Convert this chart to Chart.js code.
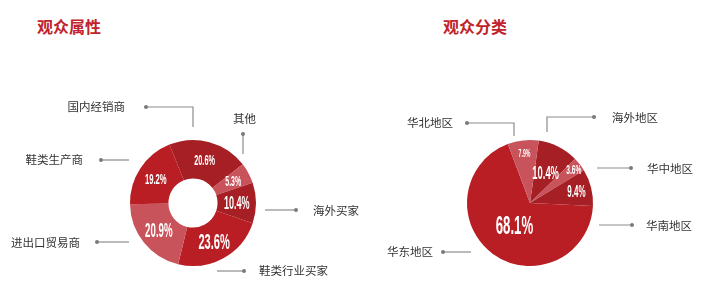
<!DOCTYPE html>
<html>
<head>
<meta charset="utf-8">
<script src="https://cdn.jsdelivr.net/npm/chart.js@4/dist/chart.umd.min.js"></script>
<style>
  html, body { margin: 0; padding: 0; background: #fff; }
  #wrap { position: relative; width: 725px; height: 306px; overflow: hidden; }
  .title { position: absolute; top: 17px; font: bold 16px "Noto Sans CJK SC", sans-serif; line-height: 18px; color: #c0232b; letter-spacing: 0; }
  canvas { position: absolute; top: 0; }
</style>
</head>
<body>
<div id="wrap">
  <div class="title" style="left:37px">观众属性</div>
  <div class="title" style="left:443px">观众分类</div>
  <canvas id="audience" width="362" height="306" style="left:0"></canvas>
  <canvas id="region" width="363" height="306" style="left:362px"></canvas>
</div>
<script>
// Visitor attributes (percent share)
const audienceLabels = ['国内经销商', '其他', '海外买家', '鞋类行业买家', '进出口贸易商', '鞋类生产商'];
const audienceShares = [20.6, 5.3, 10.4, 23.6, 20.9, 19.2];

// Visitor origin by region (percent share)
const regionLabels = ['海外地区', '华中地区', '华南地区', '华东地区', '华北地区'];
const regionShares = [10.4, 3.6, 9.4, 68.1, 7.9];

const DARK = '#a51f24', RED = '#b81e23', PINK = '#c9535b';
const audienceColors = [DARK, PINK, DARK, RED, PINK, RED];
const regionColors = [DARK, PINK, DARK, RED, PINK];

// Percent text inside each slice: cap height and radial position (0 = inner edge, 1 = outer edge)
const audienceTextHeight = [10.5, 10, 13, 16, 14, 11];
const audienceTextRadius = [0.52, 0.55, 0.5, 0.5, 0.5, 0.52];
const regionTextHeight = [13.5, 9.5, 11.5, 19, 7.5];
const regionTextRadius = [0.55, 0.88, 0.76, 0.42, 0.8];

// Leader lines, relative to the chart centre: polyline points (dot on the first), text anchor
const audienceCallouts = [
  { pts: [[-47, -96], [0, -96], [0, -76]], text: [-68, -96], align: 'right' },
  { pts: [[50, -69], [50, -49]], text: [51.5, -84], align: 'center' },
  { pts: [[103, 7], [72, 7]], text: [120, 8], align: 'left' },
  { pts: [[51, 68], [24, 68]], text: [66, 68], align: 'left' },
  { pts: [[-96, 39], [-64, 39]], text: [-113, 40], align: 'right' },
  { pts: [[-92, -43], [-64, -43]], text: [-110, -43], align: 'right' }
];
const regionCallouts = [
  { pts: [[64, -86], [17, -86], [17, -71]], text: [82, -85], align: 'left' },
  { pts: [[101, -35], [67, -35]], text: [117, -34], align: 'left' },
  { pts: [[102, 22], [69, 22]], text: [116, 23], align: 'left' },
  { pts: [[-87, 49], [-59, 49]], text: [-97, 49], align: 'right' },
  { pts: [[-63, -80], [-16, -80], [-16, -67]], text: [-77, -80], align: 'right' }
];

const sliceText = {
  id: 'sliceText',
  afterDatasetsDraw(chart, args, opts) {
    const ctx = chart.ctx;
    const values = chart.data.datasets[0].data;
    chart.getDatasetMeta(0).data.forEach((arc, i) => {
      const p = arc.getProps(['x', 'y', 'startAngle', 'endAngle', 'innerRadius', 'outerRadius'], true);
      const mid = (p.startAngle + p.endAngle) / 2;
      const r = p.innerRadius + (p.outerRadius - p.innerRadius) * opts.radius[i];
      const x = p.x + Math.cos(mid) * r;
      const y = p.y + Math.sin(mid) * r;
      const h = opts.height[i];
      ctx.save();
      ctx.translate(x, y + h / 2);
      ctx.scale(0.5, 1);
      ctx.font = 'bold ' + (h / 0.72).toFixed(1) + 'px "Liberation Sans Narrow", "Liberation Sans", sans-serif';
      ctx.fillStyle = '#ffffff';
      ctx.textAlign = 'center';
      ctx.textBaseline = 'alphabetic';
      ctx.fillText(values[i].toFixed(1) + '%', 0, 0);
      ctx.restore();
    });
  }
};

const callouts = {
  id: 'callouts',
  afterDraw(chart, args, opts) {
    const ctx = chart.ctx;
    const c = chart.getDatasetMeta(0).data[0];
    const cx = c.x, cy = c.y;
    const labels = chart.data.labels;
    opts.items.forEach((item, i) => {
      ctx.save();
      ctx.strokeStyle = '#8c8c8c';
      ctx.lineWidth = 1.2;
      ctx.beginPath();
      item.pts.forEach((pt, k) => {
        const px = cx + pt[0], py = cy + pt[1];
        if (k === 0) ctx.moveTo(px, py); else ctx.lineTo(px, py);
      });
      ctx.stroke();
      ctx.fillStyle = '#7a7a7a';
      ctx.beginPath();
      ctx.arc(cx + item.pts[0][0], cy + item.pts[0][1], 2, 0, Math.PI * 2);
      ctx.fill();
      ctx.fillStyle = '#333333';
      ctx.font = '11.5px "Noto Sans CJK SC", sans-serif';
      ctx.textAlign = item.align;
      ctx.textBaseline = 'middle';
      ctx.fillText(labels[i], cx + item.text[0], cy + item.text[1]);
      ctx.restore();
    });
  }
};

function makePie(id, labels, values, colors, cutout, rotation, padding, textHeight, textRadius, items) {
  return new Chart(document.getElementById(id), {
    type: 'doughnut',
    data: {
      labels: labels,
      datasets: [{ data: values, backgroundColor: colors, borderWidth: 0, hoverOffset: 0 }]
    },
    options: {
      responsive: false,
      animation: false,
      cutout: cutout,
      rotation: rotation,
      layout: { padding: padding },
      events: [],
      plugins: {
        legend: { display: false },
        tooltip: { enabled: false },
        sliceText: { height: textHeight, radius: textRadius },
        callouts: { items: items }
      }
    },
    plugins: [sliceText, callouts]
  });
}

makePie('audience', audienceLabels, audienceShares, audienceColors, '39%', -22,
  { left: 130, right: 106, top: 140, bottom: 40 },
  audienceTextHeight, audienceTextRadius, audienceCallouts);

makePie('region', regionLabels, regionShares, regionColors, 0, 8,
  { left: 105, right: 132, top: 140, bottom: 40 },
  regionTextHeight, regionTextRadius, regionCallouts);
</script>
</body>
</html>
